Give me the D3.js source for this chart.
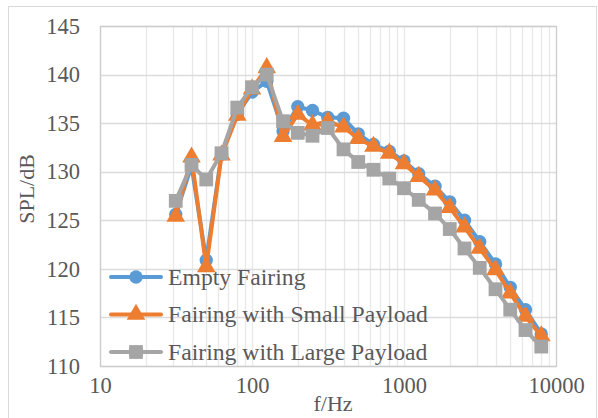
<!DOCTYPE html>
<html>
<head>
<meta charset="utf-8">
<script src="https://cdn.jsdelivr.net/npm/d3@7"></script>
<style>
  body { margin: 0; background: #fff; }
</style>
</head>
<body>
<svg id="chart" width="598" height="418"></svg>
<script>
// 1/3 octave centre frequencies (Hz)
var freqs = [31.5, 40, 50, 63, 80, 100, 125, 160, 200, 250, 315, 400, 500, 630, 800,
             1000, 1250, 1600, 2000, 2500, 3150, 4000, 5000, 6300, 8000];

var emptyFairing = [125.6, 130.6, 120.9, 131.8, 135.9, 138.2, 139.3, 134.2, 136.7, 136.3,
                    135.6, 135.5, 133.9, 132.8, 132.1, 131.1, 129.8, 128.5, 126.9, 125.0,
                    122.8, 120.5, 118.1, 115.8, 113.3];
var smallPayload = [125.4, 131.5, 120.2, 131.7, 135.8, 138.5, 140.7, 133.6, 135.9, 134.8,
                    135.2, 134.6, 133.4, 132.6, 131.9, 130.8, 129.5, 128.1, 126.3, 124.3,
                    122.1, 119.9, 117.5, 115.1, 113.1];
var largePayload = [127.0, 130.7, 129.2, 131.9, 136.6, 138.7, 140.0, 135.2, 134.0, 133.7,
                    134.5, 132.3, 131.0, 130.2, 129.3, 128.3, 127.1, 125.7, 124.1, 122.1,
                    120.1, 117.9, 115.8, 113.7, 112.0];

var seriesNames = ["Empty Fairing", "Fairing with Small Payload", "Fairing with Large Payload"];
var yTicks = [110, 115, 120, 125, 130, 135, 140, 145];
var xTicks = [10, 100, 1000, 10000];

var colors = ["#5b9bd5", "#ed7d31", "#a5a5a5"];
var symbols = [d3.symbolCircle, d3.symbolTriangle, d3.symbolSquare];
var symbolSizes = [140, 150, 190];
var serif = "'Liberation Serif'";
var textColor = "#595959";

var svg = d3.select("#chart");
var margin = {left: 100, top: 26, right: 42, bottom: 52};
var width = 598 - margin.left - margin.right,
    height = 418 - margin.top - margin.bottom;

// outer chart frame
svg.append("rect")
    .attr("x", 8.5).attr("y", 6.5)
    .attr("width", 588).attr("height", 430)
    .attr("fill", "none").attr("stroke", "#d9d9d9");

var x = d3.scaleLog().domain([10, 10000]).range([0, width]);
var y = d3.scaleLinear().domain([110, 145]).range([height, 0]);

var g = svg.append("g")
    .attr("transform", "translate(" + margin.left + "," + margin.top + ")");

// minor vertical grid (1..9 of each decade)
var minor = [];
[10, 100, 1000].forEach(function(d) {
  for (var k = 1; k < 10; k++) minor.push(d * k);
});
g.selectAll(".vgrid")
    .data(minor)
    .enter().append("line")
    .attr("class", "vgrid")
    .attr("x1", function(d) { return Math.round(x(d)) + 0.5; })
    .attr("x2", function(d) { return Math.round(x(d)) + 0.5; })
    .attr("y1", 0).attr("y2", height)
    .attr("stroke", "#e8e8e8").attr("stroke-width", 1.3);

g.selectAll(".hgrid")
    .data(yTicks)
    .enter().append("line")
    .attr("class", "hgrid")
    .attr("x1", 0).attr("x2", width)
    .attr("y1", function(d) { return Math.round(y(d)) + 0.5; })
    .attr("y2", function(d) { return Math.round(y(d)) + 0.5; })
    .attr("stroke", "#dcdcdc").attr("stroke-width", 1.5);

g.append("rect")
    .attr("x", 0.5).attr("y", 0.5)
    .attr("width", width).attr("height", height)
    .attr("fill", "none").attr("stroke", "#cccccc").attr("stroke-width", 1.3);

// axes (tick text only)
var xAxis = g.append("g")
    .attr("transform", "translate(0," + height + ")")
    .call(d3.axisBottom(x).tickValues(xTicks).tickFormat(d3.format("d")).tickSize(0).tickPadding(11));
var yAxis = g.append("g")
    .call(d3.axisLeft(y).tickValues(yTicks).tickSize(0).tickPadding(20));
[xAxis, yAxis].forEach(function(a) {
  a.select(".domain").remove();
  a.selectAll("text")
      .style("font-family", serif)
      .style("font-size", "22.5px")
      .style("fill", textColor);
});

svg.append("text")
    .attr("transform", "translate(34,189) rotate(-90)")
    .attr("text-anchor", "middle")
    .style("font-family", serif)
    .style("font-size", "22px")
    .style("fill", textColor)
    .text("SPL/dB");

svg.append("text")
    .attr("x", 333).attr("y", 411)
    .attr("text-anchor", "middle")
    .style("font-family", serif)
    .style("font-size", "22px")
    .style("fill", textColor)
    .text("f/Hz");

// series
var allSeries = [emptyFairing, smallPayload, largePayload];
var line = d3.line()
    .x(function(d, i) { return x(freqs[i]); })
    .y(function(d) { return y(d); });

// legend
var legend = svg.append("g");
seriesNames.forEach(function(name, s) {
  var ly = 277 + s * 37.5;
  legend.append("line")
      .attr("x1", 111).attr("x2", 161)
      .attr("y1", ly).attr("y2", ly)
      .attr("stroke", colors[s]).attr("stroke-width", 4)
      .attr("stroke-linecap", "round");
  legend.append("path")
      .attr("d", d3.symbol().type(symbols[s]).size(symbolSizes[s]))
      .attr("transform", "translate(136," + ly + ")")
      .attr("fill", colors[s]);
  legend.append("text")
      .attr("x", 168).attr("y", ly + 7.5)
      .style("font-family", serif)
      .style("font-size", "23.7px")
      .style("fill", textColor)
      .text(name);
});

allSeries.forEach(function(vals, s) {
  var sg = g.append("g");
  sg.append("path")
      .datum(vals)
      .attr("d", line)
      .attr("fill", "none")
      .attr("stroke", colors[s])
      .attr("stroke-width", 4)
      .attr("stroke-linejoin", "round");
  sg.selectAll(".pt")
      .data(vals)
      .enter().append("path")
      .attr("class", "pt")
      .attr("d", d3.symbol().type(symbols[s]).size(symbolSizes[s]))
      .attr("transform", function(d, i) { return "translate(" + x(freqs[i]) + "," + y(d) + ")"; })
      .attr("fill", colors[s]);
});
</script>
</body>
</html>
